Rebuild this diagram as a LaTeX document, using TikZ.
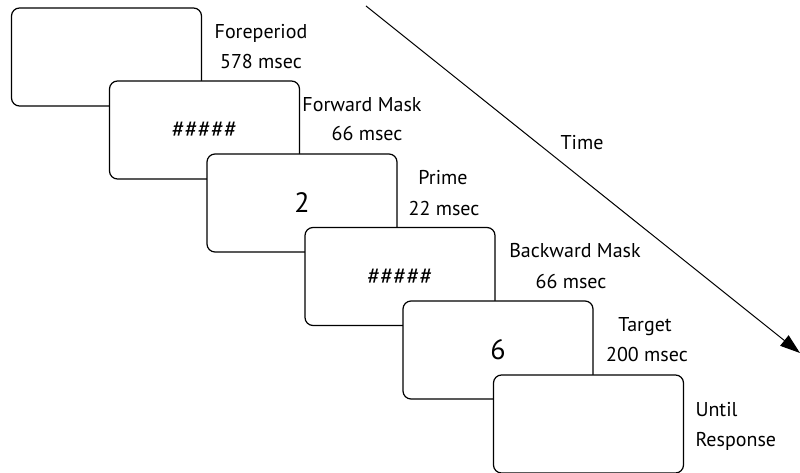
\documentclass[tikz,border=0pt]{standalone}
\usepackage{fontspec}
\setmainfont{PT Sans}
\usetikzlibrary{arrows.meta}

\tikzset{every picture/.style={line width=0.75pt}}
\tikzset{
  screen/.style={draw, fill=white, line width=0.9pt, rounded corners=6pt,
    minimum width=142.5pt, minimum height=73.5pt, inner sep=0pt},
  stagetext/.style={font=\fontsize{15}{18}\selectfont, anchor=base, inner sep=0pt},
  bigdigit/.style={font=\fontsize{21}{25}\selectfont},
  masktext/.style={font=\fontsize{18}{21}\selectfont}
}

\begin{document}
\begin{tikzpicture}[x=0.75pt,y=0.75pt,yscale=-1,xscale=1]
\useasboundingbox (0,0) rectangle (800,473);

%Time axis
\coordinate (tstart) at (366,6);
\coordinate (tend) at (800,353);
\draw [-{Triangle[length=15pt,width=10pt]}] (tstart) -- (tend) ;

%Screens
\node [screen] (fore) at (106.5,57) {};
\node [screen, masktext] (fmask) at (204.5,130) {\#\#\#\#\#};
\node [screen, bigdigit] (prime) at (302,203) {2};
\node [screen, masktext] (bmask) at (400,276.5) {\#\#\#\#\#};
\node [screen, bigdigit] (target) at (498,350) {6};
\node [screen] (resp) at (588.5,424) {};

% Text Node
\node [stagetext] (foretxt) at (261,39) {Foreperiod};
% Text Node
\node [stagetext] (foredur) at (261,69) {578 msec};
% Text Node
\node [stagetext] (fmasktxt) at (362,112) {Forward Mask};
% Text Node
\node [stagetext] (fmaskdur) at (367,141) {66 msec};
% Text Node
\node [stagetext] (timetxt) at (582,150) {Time};
% Text Node
\node [stagetext] (primetxt) at (443,185) {Prime};
% Text Node
\node [stagetext] (primedur) at (444,216) {22 msec};
% Text Node
\node [stagetext] (bmasktxt) at (575,258) {Backward Mask};
% Text Node
\node [stagetext] (bmaskdur) at (571,289) {66 msec};
% Text Node
\node [stagetext] (targettxt) at (645,332) {Target};
% Text Node
\node [stagetext] (targetdur) at (647,362) {200 msec};
% Text Node
\node [stagetext, anchor=base west] (untiltxt) at (695,417) {Until};
% Text Node
\node [stagetext, anchor=base west] (resptxt) at (695,447) {Response};

\end{tikzpicture}
\end{document}
